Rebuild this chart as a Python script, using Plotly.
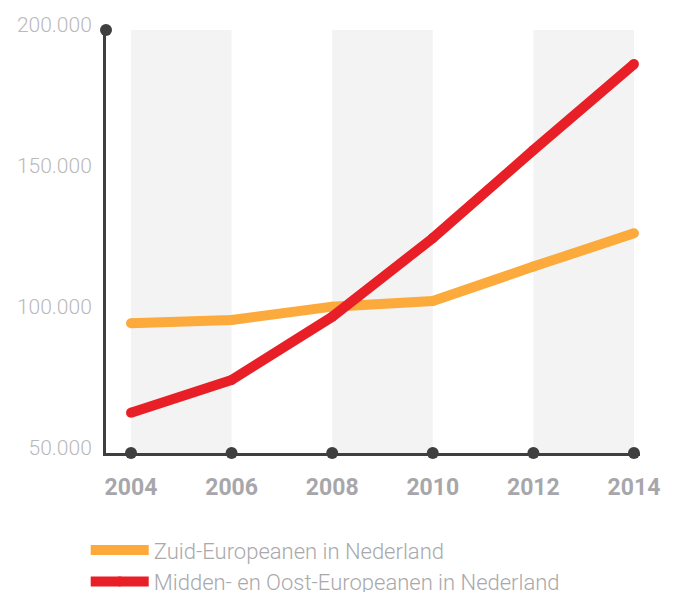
import plotly.graph_objects as go

years = [2004, 2006, 2008, 2010, 2012, 2014]
zuid = [96000, 97200, 101900, 103900, 116100, 127900]
midden_oost = [64300, 75900, 98300, 126200, 157400, 187900]
y_ticks = [50000, 100000, 150000, 200000]
y_tick_labels = ["50.000", "100.000", "150.000", "200.000"]
band_pairs = [(2004, 2006), (2008, 2010), (2012, 2014)]

x_range = [2003.503, 2014.12]
y_range = [50000, 200000]

axis_color = "#3f3f3f"
orange = "#fbaa3b"
red = "#e91f27"

fig = go.Figure()

# grey column bands behind the lines
for x0, x1 in band_pairs:
    fig.add_shape(
        type="rect", xref="x", yref="y", x0=x0, x1=x1,
        y0=y_range[0], y1=y_range[1],
        fillcolor="#f3f3f3", line_width=0, layer="below",
    )

fig.add_trace(
    go.Scatter(
        x=years, y=zuid, mode="lines+markers",
        name="Zuid-Europeanen in Nederland",
        line=dict(color=orange, width=10),
        marker=dict(color=orange, size=10),
    )
)
fig.add_trace(
    go.Scatter(
        x=years, y=midden_oost, mode="lines+markers",
        name="Midden- en Oost-Europeanen in Nederland",
        line=dict(color=red, width=10),
        marker=dict(color=red, size=10),
    )
)

# dots on the axes
fig.add_trace(
    go.Scatter(
        x=years + [x_range[0]], y=[y_range[0]] * len(years) + [y_range[1]],
        mode="markers", marker=dict(color=axis_color, size=12),
        cliponaxis=False, showlegend=False, hoverinfo="skip",
    )
)

# the page body adds an 8px offset, so margins are shifted by that amount
fig.update_layout(
    width=675, height=592,
    margin=dict(l=98, r=43, t=22, b=147, autoexpand=False),
    paper_bgcolor="white", plot_bgcolor="white",
    font=dict(family="Roboto", color="#a9a9ab"),
    showlegend=True,
    legend=dict(
        orientation="v", x=-0.038, y=-0.18, xanchor="left", yanchor="top",
        font=dict(size=22, color="#a9a9ab", weight=300),
        itemwidth=58, tracegroupgap=0, bgcolor="rgba(0,0,0,0)",
    ),
)
fig.update_xaxes(
    range=x_range, tickvals=years, showgrid=False, zeroline=False,
    showline=True, linecolor=axis_color, linewidth=3, automargin=False,
    ticks="", ticklabelstandoff=11,
    tickfont=dict(size=23, color="#a7a7ab", weight="bold"),
)
fig.update_yaxes(
    range=y_range, tickvals=y_ticks, ticktext=y_tick_labels,
    showgrid=False, zeroline=False, automargin=False,
    showline=True, linecolor=axis_color, linewidth=3,
    ticks="", ticklabelstandoff=7, ticklabelshift=-5,
    tickfont=dict(size=21, color="#b9b9bb", weight=300),
)

fig.write_html("out.html")
